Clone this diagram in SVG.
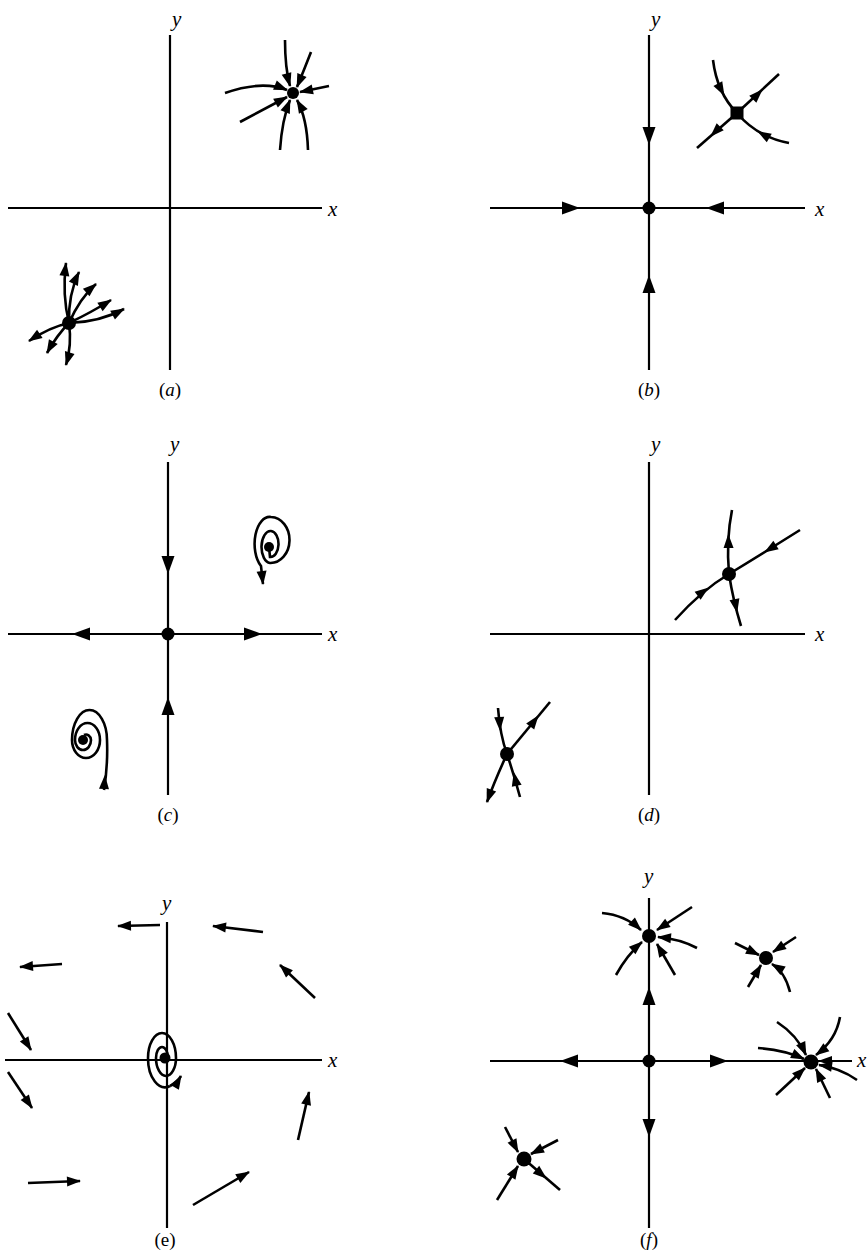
<svg xmlns="http://www.w3.org/2000/svg" width="867" height="1256" viewBox="0 0 867 1256">
<style>
.ax{stroke:#000;stroke-width:2.2;fill:none}
.tr{stroke:#000;stroke-width:2.6;fill:none}
.mk{stroke:none;fill:none}
.lb{font-family:"Liberation Serif",serif;font-style:italic;font-size:21px;fill:#000}
.cap{font-family:"Liberation Serif",serif;font-size:19px;fill:#000;text-anchor:middle}
.nd{fill:#000}
</style>
<defs>
<marker id="a" markerUnits="userSpaceOnUse" orient="auto" refX="0" refY="0" markerWidth="20" markerHeight="20" overflow="visible"><path d="M1,0 L-13,-5 L-13,5 Z" fill="#000"/></marker>
<marker id="A" markerUnits="userSpaceOnUse" orient="auto" refX="0" refY="0" markerWidth="20" markerHeight="20" overflow="visible"><path d="M0,0 L-18,-6.5 L-18,6.5 Z" fill="#000"/></marker>
</defs>
<rect width="867" height="1256" fill="#fff"/>

<!-- Panel a -->
<g id="panel-a">
<g id="a-axes">
<path class="ax" d="M170,35 L170,370 M8,208 L322,208"/>
<text class="lb" x="172" y="26">y</text>
<text class="lb" x="328" y="216">x</text>
<text class="cap" x="170" y="396">(<tspan font-style="italic">a</tspan>)</text>
</g>
<g id="a-connectors">
<path class="tr" marker-end="url(#a)" d="M285,40 Q285,68 290,86"/>
<path class="tr" marker-end="url(#a)" d="M311,52 Q304,70 297,87"/>
<path class="tr" marker-end="url(#a)" d="M329,86 L300,92"/>
<path class="tr" marker-end="url(#a)" d="M225,93 Q262,80 287,90"/>
<path class="tr" marker-end="url(#a)" d="M240,122 L287,97"/>
<path class="tr" marker-end="url(#a)" d="M280,150 Q282,120 290,100"/>
<path class="tr" marker-end="url(#a)" d="M308,150 Q307,118 297,100"/>
<path class="tr" marker-end="url(#a)" d="M69,323 Q62,295 66,263"/>
<path class="tr" marker-end="url(#a)" d="M69,323 Q68,295 79,272"/>
<path class="tr" marker-end="url(#a)" d="M69,323 Q80,298 96,284"/>
<path class="tr" marker-end="url(#a)" d="M69,323 Q92,312 111,300"/>
<path class="tr" marker-end="url(#a)" d="M69,323 Q100,322 124,309"/>
<path class="tr" marker-end="url(#a)" d="M69,323 Q50,327 29,341"/>
<path class="tr" marker-end="url(#a)" d="M69,323 Q57,335 47,353"/>
<path class="tr" marker-end="url(#a)" d="M69,323 Q72,345 66,365"/>
</g>
<g id="a-node1"><circle class="nd" cx="293" cy="93" r="6"/></g>
<g id="a-node2"><circle class="nd" cx="69" cy="323" r="7"/></g>
</g>

<!-- Panel b -->
<g id="panel-b">
<g id="b-axes">
<path class="ax" d="M649,35 L649,370 M490,208 L805,208"/>
<text class="lb" x="651" y="26">y</text>
<text class="lb" x="815" y="216">x</text>
<text class="cap" x="649" y="396">(<tspan font-style="italic">b</tspan>)</text>
</g>
<g id="b-connectors">
<path class="mk" marker-end="url(#A)" d="M649,135 L649,145"/>
<path class="mk" marker-end="url(#A)" d="M570,208 L580,208"/>
<path class="mk" marker-end="url(#A)" d="M716,208 L706,208"/>
<path class="mk" marker-end="url(#A)" d="M649,285 L649,275"/>
<path class="tr" d="M713,60 Q717,93 737,113"/>
<path class="mk" marker-end="url(#a)" d="M722.6,92.4 L724,95"/>
<path class="tr" d="M737,113 L779,74"/>
<path class="mk" marker-end="url(#a)" d="M760,92 L762,90"/>
<path class="tr" d="M737,113 L697,148"/>
<path class="mk" marker-end="url(#a)" d="M713,134 L711,136"/>
<path class="tr" d="M789,143 Q757,137 737,113"/>
<path class="mk" marker-end="url(#a)" d="M760.6,133 L758,131.5"/>
</g>
<g id="b-node1"><circle class="nd" cx="649" cy="208" r="6.5"/></g>
<g id="b-node2"><rect class="nd" x="730.5" y="106.5" width="13" height="13"/></g>
</g>

<!-- Panel c -->
<g id="panel-c">
<g id="c-axes">
<path class="ax" d="M168,462 L168,795 M8,634 L322,634"/>
<text class="lb" x="170" y="451">y</text>
<text class="lb" x="328" y="641">x</text>
<text class="cap" x="168" y="821">(<tspan font-style="italic">c</tspan>)</text>
</g>
<g id="c-connectors">
<path class="mk" marker-end="url(#A)" d="M168,562 L168,574"/>
<path class="mk" marker-end="url(#A)" d="M82,634 L72,634"/>
<path class="mk" marker-end="url(#A)" d="M252,634 L262,634"/>
<path class="mk" marker-end="url(#A)" d="M168,707 L168,697"/>
<path class="tr" marker-end="url(#a)" d="M269,547 L270,557 A8,13 0 0 0 271,531 A9,16 0 0 0 270,563 A19,23 0 0 0 271,517 A15,27 0 0 0 261,566 L263,584"/>
<path class="tr" d="M104,790 Q108,765 107,740 A17.5,30 0 0 0 72,740 A14,18 0 0 0 100,740 A12.5,17 0 0 0 75,740 A8,10 0 0 0 91,740 A5,6 0 0 0 84,735"/>
<path class="mk" marker-end="url(#a)" d="M104.3,784 L104.8,776"/>
</g>
<g id="c-node1"><circle class="nd" cx="168" cy="634" r="6.5"/></g>
<g id="c-node2"><circle class="nd" cx="269" cy="547" r="5"/></g>
<g id="c-node3"><circle class="nd" cx="83" cy="740" r="5"/></g>
</g>

<!-- Panel d -->
<g id="panel-d">
<g id="d-axes">
<path class="ax" d="M649,462 L649,795 M490,634 L805,634"/>
<text class="lb" x="651" y="451">y</text>
<text class="lb" x="815" y="641">x</text>
<text class="cap" x="649" y="821">(<tspan font-style="italic">d</tspan>)</text>
</g>
<g id="d-connectors">
<path class="tr" d="M732,510 Q726,540 729,574"/>
<path class="mk" marker-end="url(#a)" d="M728.5,545 L728.3,535"/>
<path class="tr" d="M729,574 Q733,600 741,626"/>
<path class="mk" marker-end="url(#a)" d="M735,602 L737,612"/>
<path class="tr" d="M675,620 Q702,590 729,574"/>
<path class="mk" marker-end="url(#a)" d="M704,591 L708,588"/>
<path class="tr" d="M800,530 Q765,552 729,574"/>
<path class="mk" marker-end="url(#a)" d="M769,549.5 L765,552"/>
<path class="tr" d="M498,708 Q500,735 507,754"/>
<path class="mk" marker-end="url(#a)" d="M499.5,722 L500,730"/>
<path class="tr" d="M507,754 L550,702"/>
<path class="mk" marker-end="url(#a)" d="M535,720 L538,716"/>
<path class="tr" marker-end="url(#a)" d="M507,754 Q495,780 487,802"/>
<path class="tr" d="M520,797 Q514,775 507,754"/>
<path class="mk" marker-end="url(#a)" d="M515.5,780 L514,773"/>
</g>
<g id="d-node1"><circle class="nd" cx="729" cy="574" r="7"/></g>
<g id="d-node2"><circle class="nd" cx="507" cy="754" r="7"/></g>
</g>

<!-- Panel e -->
<g id="panel-e">
<g id="e-axes">
<path class="ax" d="M167,922 L167,1228 M5,1060 L322,1060"/>
<text class="lb" x="162" y="910">y</text>
<text class="lb" x="328" y="1067">x</text>
<text class="cap" x="165" y="1246">(e)</text>
</g>
<g id="e-connectors">
<path class="tr" marker-end="url(#a)" d="M62,964 L20,967"/>
<path class="tr" marker-end="url(#a)" d="M160,925 L118,926"/>
<path class="tr" marker-end="url(#a)" d="M263,932 L213,926"/>
<path class="tr" marker-end="url(#a)" d="M315,998 L280,965"/>
<path class="tr" marker-end="url(#a)" d="M8,1013 L31,1050"/>
<path class="tr" marker-end="url(#a)" d="M8,1072 L32,1108"/>
<path class="tr" marker-end="url(#a)" d="M298,1140 L309,1092"/>
<path class="tr" marker-end="url(#a)" d="M28,1183 L80,1181"/>
<path class="tr" marker-end="url(#a)" d="M193,1205 L249,1172"/>
<path class="tr" d="M166,1058 L168,1058 A6,11 0 0 0 156,1058 A10,18 0 0 0 176,1058 A14,25 0 0 0 148,1058 A17,29 0 0 0 170,1086"/>
<path class="tr" marker-end="url(#a)" d="M170,1086 Q177,1083 181,1076"/>
</g>
<g id="e-node1"><circle class="nd" cx="165" cy="1058" r="5.5"/></g>
</g>

<!-- Panel f -->
<g id="panel-f">
<g id="f-axes">
<path class="ax" d="M649,898 L649,1228 M490,1061 L852,1061"/>
<text class="lb" x="644" y="883">y</text>
<text class="lb" x="857" y="1067">x</text>
<text class="cap" x="649" y="1246">(<tspan font-style="italic">f</tspan>)</text>
</g>
<g id="f-connectors">
<path class="mk" marker-end="url(#A)" d="M649,997 L649,987"/>
<path class="mk" marker-end="url(#A)" d="M570,1061 L560,1061"/>
<path class="mk" marker-end="url(#A)" d="M718,1061 L728,1061"/>
<path class="mk" marker-end="url(#A)" d="M649,1127 L649,1137"/>
<path class="tr" marker-end="url(#a)" d="M602,913 Q625,915 641,930"/>
<path class="tr" marker-end="url(#a)" d="M692,907 L657,930"/>
<path class="tr" marker-end="url(#a)" d="M697,948 Q680,939 658,937"/>
<path class="tr" marker-end="url(#a)" d="M675,975 L657,944"/>
<path class="tr" marker-end="url(#a)" d="M616,975 Q627,955 642,942"/>
<path class="tr" marker-end="url(#a)" d="M735,943 L759,955"/>
<path class="tr" marker-end="url(#a)" d="M796,937 L773,952"/>
<path class="tr" marker-end="url(#a)" d="M748,987 L761,965"/>
<path class="tr" marker-end="url(#a)" d="M790,992 Q785,972 772,964"/>
<path class="tr" marker-end="url(#a)" d="M777,1022 Q797,1035 806,1055"/>
<path class="tr" marker-end="url(#a)" d="M840,1017 Q836,1040 816,1055"/>
<path class="tr" marker-end="url(#a)" d="M758,1048 Q785,1050 804,1059"/>
<path class="mk" marker-end="url(#a)" d="M830,1061 L819,1061"/>
<path class="tr" marker-end="url(#a)" d="M857,1080 Q840,1068 819,1065"/>
<path class="tr" marker-end="url(#a)" d="M776,1095 L805,1068"/>
<path class="tr" marker-end="url(#a)" d="M830,1098 L816,1069"/>
<path class="tr" marker-end="url(#a)" d="M505,1127 L518,1152"/>
<path class="tr" marker-end="url(#a)" d="M558,1140 L531,1154"/>
<path class="tr" marker-end="url(#a)" d="M497,1200 L518,1166"/>
<path class="tr" d="M524,1159 L560,1190"/>
<path class="mk" marker-end="url(#a)" d="M540,1173 L546,1178"/>
</g>
<g id="f-node1"><circle class="nd" cx="649" cy="1061" r="6.5"/></g>
<g id="f-node2"><circle class="nd" cx="649" cy="936" r="7"/></g>
<g id="f-node3"><circle class="nd" cx="766" cy="958" r="7"/></g>
<g id="f-node4"><circle class="nd" cx="811" cy="1062" r="7.5"/></g>
<g id="f-node5"><circle class="nd" cx="524" cy="1159" r="7.5"/></g>
</g>
</svg>
